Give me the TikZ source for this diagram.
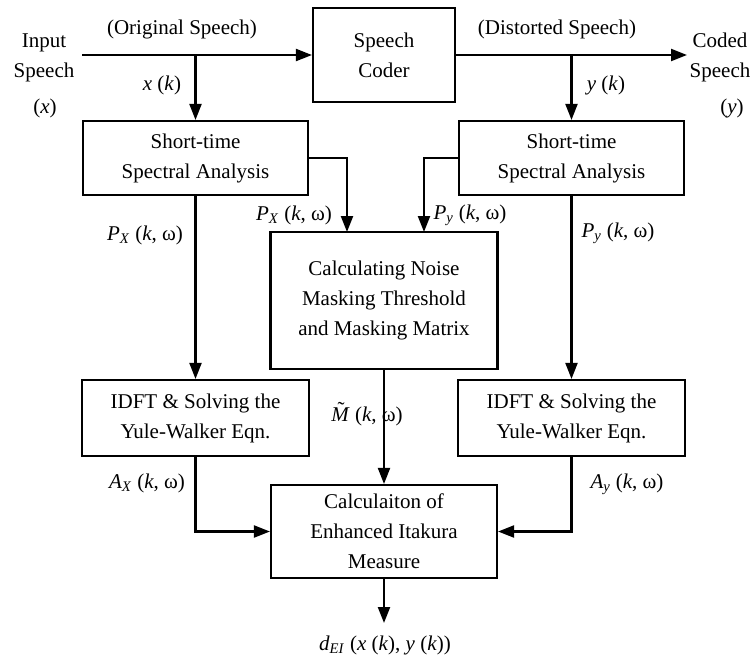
\documentclass[tikz,border=0pt]{standalone}
\usepackage{fontspec}
\setmainfont{Liberation Serif}
\usetikzlibrary{arrows.meta}
\newcommand{\spec}[2]{\textit{#1}\textsubscript{\textit{#2}} (\textit{k}, ω)}
\newcommand{\tildeM}{\makebox[0pt][l]{\hspace{0.3em}\raisebox{0.25em}{\char"02DC}}\textit{M}}
\begin{document}
\begin{tikzpicture}[
                x=0.75pt,y=-0.75pt,
                every node/.append style={font=\fontsize{15.75}{22.5}\selectfont},
                box/.style={draw,line width=1.6pt,align=center,inner sep=0pt},
                flow/.style={line width=1.6pt,-{Triangle[length=12pt,width=9pt]}}
            ]
                \useasboundingbox (0,0) rectangle (754,658);
                % blocks
                \node[box,minimum width=106.5pt,minimum height=70.5pt] (coder) at (384,55) {Speech\\Coder};
                \node[box,minimum width=168.75pt,minimum height=55.5pt] (stsaL) at (195.5,158) {Short-time\\Spectral Analysis};
                \node[box,minimum width=168.75pt,minimum height=55.5pt] (stsaR) at (571.5,158) {Short-time\\Spectral Analysis};
                \node[box,minimum width=170.25pt,minimum height=102.75pt] (nmt) at (384,300.5) {Calculating Noise\\Masking Threshold\\and Masking Matrix};
                \node[box,minimum width=170.25pt,minimum height=57pt] (idftL) at (195.5,418) {IDFT \& Solving the\\Yule-Walker Eqn.};
                \node[box,minimum width=170.25pt,minimum height=57pt] (idftR) at (571.5,418) {IDFT \& Solving the\\Yule-Walker Eqn.};
                \node[box,minimum width=169.5pt,minimum height=69.75pt] (eim) at (384,531.5) {Calculaiton of\\Enhanced Itakura\\Measure};
                % end points
                \coordinate (src) at (82,55);
                \coordinate (dst) at (687,55);
                \coordinate (tapx) at (195.5,55);
                \coordinate (tapy) at (571.5,55);
                \coordinate (pxin) at (347,232);
                \coordinate (pyin) at (424,232);
                \coordinate (res) at (384,623);
                % signals
                \draw[flow] (src) -- (coder);
                \draw[flow] (coder) -- (dst);
                \draw[flow] (tapx) -- (stsaL);
                \draw[flow] (tapy) -- (stsaR);
                \draw[flow] (stsaL.east) -| (pxin);
                \draw[flow] (stsaR.west) -| (pyin);
                \draw[flow] (stsaL) -- (idftL);
                \draw[flow] (stsaR) -- (idftR);
                \draw[flow] (nmt) -- (eim);
                \draw[flow] (idftL) |- (eim);
                \draw[flow] (idftR) |- (eim);
                \draw[flow] (eim) -- (res);
                % labels
                \node[align=center] (insp) at (44,57.5) {Input\\Speech};
                \node (inx) at (45,108) {(\textit{x})};
                \node[align=center] (outsp) at (720,57.5) {Coded\\Speech};
                \node (outy) at (732,108) {(\textit{y})};
                \node (orig) at (182,29) {(Original Speech)};
                \node (dist) at (557,29) {(Distorted Speech)};
                \node (xk) at (162,85) {\textit{x} (\textit{k})};
                \node (yk) at (606,85) {\textit{y} (\textit{k})};
                \node (pxb) at (294,215) {\spec{P}{X}};
                \node (pyb) at (470,215) {\spec{P}{y}};
                \node (pxl) at (145,235) {\spec{P}{X}};
                \node (pyr) at (618,233) {\spec{P}{y}};
                \node (mt) at (367,414) {\tildeM{} (\textit{k}, ω)};
                \node (ax) at (147,483) {\spec{A}{X}};
                \node (ay) at (627,484) {\spec{A}{y}};
                \node (dei) at (385,645) {\textit{d}\textsubscript{\textit{EI}} (\textit{x} (\textit{k}), \textit{y} (\textit{k}))};
            \end{tikzpicture}
\end{document}
